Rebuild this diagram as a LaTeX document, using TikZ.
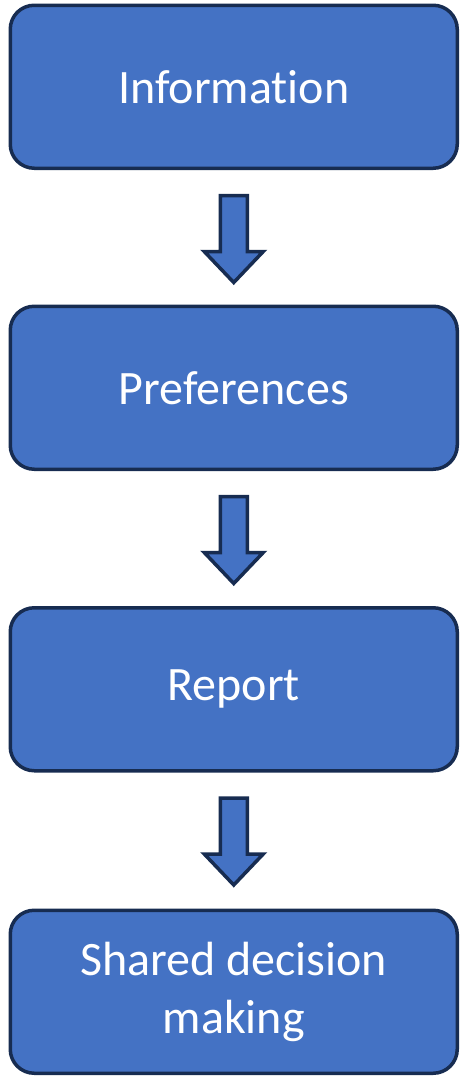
\documentclass[tikz,border=0pt]{standalone}
\usepackage{fontspec}
\setmainfont{Carlito}[Ligatures=NoCommon]
\usetikzlibrary{calc}
\definecolor{boxfill}{HTML}{4472C4}
\definecolor{boxline}{HTML}{172C51}
\begin{document}
\begin{tikzpicture}[x=1pt,y=-1pt,
  stage/.style={draw=boxline,fill=boxfill,line width=3.5pt,rounded corners=24pt,
    minimum width=447pt,minimum height=163pt,text=white,align=center,
    font=\fontsize{48}{58}\selectfont,inner sep=0pt,anchor=north west},
  downarrow/.style={draw=boxline,fill=boxfill,line width=3.5pt,line join=miter}]
\useasboundingbox (0,0) rectangle (459,1077);
\node[stage] (b1) at (8.5,3.5) {Information};
\node[stage] (b2) at (8.5,304.5) {Preferences};
\node[stage] (b3) at (8.5,606) {Report};
\node[stage] (b4) at (8.5,908.5) {Shared decision\\making};
\foreach \a in {b1,b2,b3}{
  \coordinate (\a t) at ($(\a.south)+(0,25.5)$);
  \draw[downarrow] ($(\a t)+(-13.5,0)$) -- ($(\a t)+(13.5,0)$) -- ($(\a t)+(13.5,56)$)
     -- ($(\a t)+(29.5,56)$) -- ($(\a t)+(0,87)$) -- ($(\a t)+(-29.5,56)$)
     -- ($(\a t)+(-13.5,56)$) -- cycle;
}
\end{tikzpicture}
\end{document}
